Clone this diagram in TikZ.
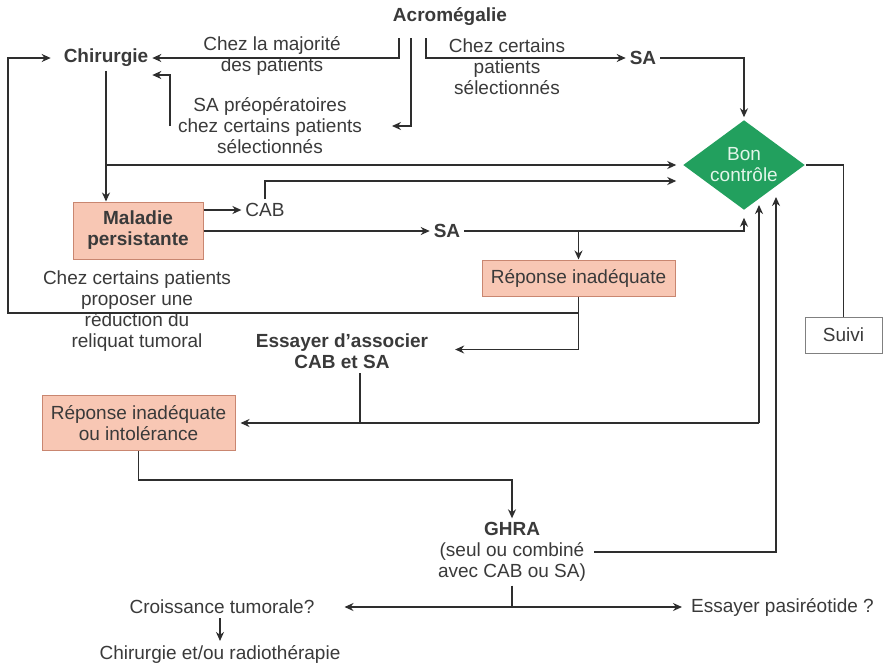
\documentclass[tikz,border=0pt]{standalone}
\usepackage{fontspec}
\setmainfont{Liberation Sans}
\usetikzlibrary{positioning, arrows.meta, shapes.geometric, calc}

\definecolor{txtgray}{HTML}{3A3A3A}
\definecolor{linegray}{HTML}{2E2E2E}
\definecolor{salmonfill}{HTML}{F8C7B4}
\definecolor{salmonline}{HTML}{C98670}
\definecolor{bongreen}{HTML}{22A05E}
\definecolor{bontext}{HTML}{E2F5E9}

\begin{document}
\begin{tikzpicture}[x=1pt, y=-1pt, color=linegray, line width=1.5pt,
    every node/.style={font=\fontsize{19}{21}\selectfont, text=txtgray, align=center},
    box/.style={rectangle, draw=salmonline, fill=salmonfill, line width=1pt, inner sep=0pt},
    arr/.style={-{Stealth[length=9pt,width=8pt]}}]
    \fill[white] (0,0) rectangle (885,670);
    \useasboundingbox (0,0) rectangle (885,670);

    \node (acro) at (450,17) {\textbf{Acromégalie}};
    \node (chir) at (106,58) {\textbf{Chirurgie}};
    \node (majo) at (272,56) {Chez la majorité\\des patients};
    \node (preop) at (270,126) {SA préopératoires\\chez certains patients\\sélectionnés};
    \node (cert) at (507,67) {Chez certains\\patients\\sélectionnés};
    \node (sa1) at (643,58) {\textbf{SA}};
    \node[diamond, fill=bongreen, text=bontext, aspect=1.37, inner sep=0pt,
        minimum width=122pt, minimum height=90pt] (bon) at (744,165) {Bon\\contrôle};

    \node[box, minimum width=130pt, minimum height=57pt] (mal) at (138,230.5) {\textbf{Maladie}\\\textbf{persistante}};
    \node (cab) at (265,210) {CAB};
    \node (sa2) at (447,231) {\textbf{SA}};
    \node[box, minimum width=193pt, minimum height=36pt] (repA) at (578.5,278) {Réponse inadéquate};
    \node (reduc) at (137,311) {Chez certains patients\\proposer une\\réduction du\\reliquat tumoral};
    \node (ess) at (342,351.5) {\textbf{Essayer d’associer}\\\textbf{CAB et SA}};
    \node[draw=gray, rectangle, line width=1pt, minimum width=77pt, minimum height=36pt] (suivi) at (843.5,335) {Suivi};
    \node[box, minimum width=193pt, minimum height=55pt] (repB) at (138.5,423) {Réponse inadéquate\\ou intolérance};

    \node (ghra) at (512,552) {\textbf{GHRA}\\(seul ou combiné\\avec CAB ou SA)};
    \node (crois) at (222,607) {Croissance tumorale?};
    \node[anchor=west] (pasi) at (687,607) {Essayer pasiréotide ?};
    \node (chrad) at (220,654) {Chirurgie et/ou radiothérapie};

    \coordinate (a1) at (399,38);
    \coordinate (a2) at (411,38);
    \coordinate (a3) at (426,38);
    \coordinate (lp) at (8,313);
    \coordinate (r1) at (759,423);
    \coordinate (t1) at (759,205);
    \coordinate (t2) at (776,197);
    \coordinate (g1) at (ghra.south |- crois);

    \draw[arr] (a1) |- (chir);
    \draw[arr] (a2) |- ([xshift=26pt]preop.east);
    \draw[arr] (a3) |- (sa1);
    \draw[arr] ([xshift=-4pt]preop.west) |- ([yshift=-17pt]chir.east);
    \draw[arr] (sa1) -| ([yshift=2pt]bon.north);

    \draw[arr] (chir) -- (chir |- mal.north);
    \draw[arr] (chir |- bon.west) -- ([xshift=-6pt]bon.west);
    \draw[arr] (mal.east |- cab) -- (cab);
    \draw[arr] (cab) |- ([xshift=-6pt,yshift=-16pt]bon.west);
    \draw[arr] (mal.east |- sa2) -- (sa2);
    \draw[arr] (sa2) -| ([yshift=-7pt]bon.south);
    \draw[arr] (repA.north |- sa2) -- (repA);

    \draw[arr] (repA) |- (lp) |- ([xshift=-9pt]chir.west);
    \draw[arr] (repA) |- ([xshift=23pt,yshift=2pt]ess.east);
    \draw ([xshift=18pt]ess.south) -- ([xshift=18pt]ess.south |- r1);
    \draw[arr] (r1) -- ([xshift=5pt]repB.east);
    \draw[arr] (r1) -- (t1);

    \draw[arr] (repB.south) -- ++(0,29) -| (ghra);
    \draw[arr] ([xshift=4pt]ghra.east) -| (t2);
    \draw (ghra) -- (g1);
    \draw[arr] (g1) -- ([xshift=26pt]crois.east);
    \draw[arr] (g1) -- ([xshift=-5pt]pasi.west);
    \draw[arr] (crois.south -| chrad) -- (chrad);

    \draw (bon) -| (suivi);
\end{tikzpicture}
\end{document}
